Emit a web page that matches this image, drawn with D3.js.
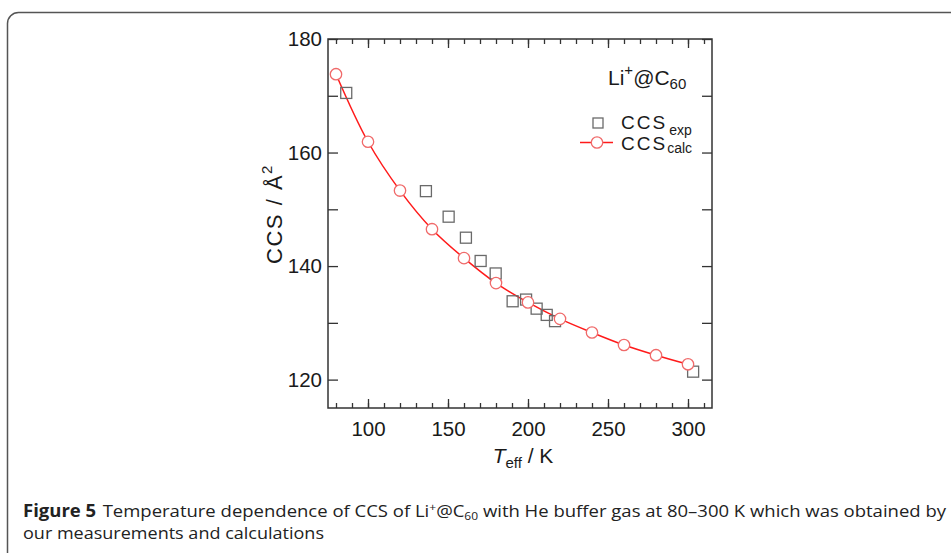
<!DOCTYPE html>
<html>
<head>
<meta charset="utf-8">
<script src="https://cdn.jsdelivr.net/npm/d3@7"></script>
<style>
  body { margin: 0; background: #fff; }
  svg { display: block; }
</style>
</head>
<body>
<div id="chart"></div>
<script>
// CCS of Li+@C60 vs effective temperature

// Data
let calcT = [80, 100, 120, 140, 160, 180, 200, 220, 240, 260, 280, 300];
let calcCCS = [173.8, 161.9, 153.3, 146.5, 141.4, 137.0, 133.6, 130.7, 128.3, 126.1, 124.3, 122.7];
let expT = [86.4, 136.2, 150.4, 161.2, 170.4, 179.8, 190.4, 198.8, 205.4, 211.7, 216.9, 303.2];
let expCCS = [170.5, 153.2, 148.7, 145.0, 140.9, 138.7, 133.8, 134.1, 132.5, 131.4, 130.3, 121.4];
let xMajorTicks = [100, 150, 200, 250, 300];
let xMinorTicks = d3.range(80, 320, 10);
let yTicks = [120, 130, 140, 150, 160, 170, 180];
let yLabelTicks = [120, 140, 160, 180];

let W = 951, H = 553;
let plot = {left: 328, top: 39, right: 712, bottom: 408};
let axisFont = '"Liberation Sans", Arial, sans-serif';

let svg = d3.select('#chart').append('svg')
  .attr('width', W)
  .attr('height', H)
  .style('background', '#fff');

// rounded frame around figure
svg.append('rect')
  .attr('x', 7.5).attr('y', 12.5)
  .attr('width', 980).attr('height', 600)
  .attr('rx', 11).attr('ry', 11)
  .attr('fill', 'none')
  .attr('stroke', '#555')
  .attr('stroke-width', 1.5);

// scales
let xScale = d3.scaleLinear().domain([75, 315]).range([plot.left, plot.right]);
let yScale = d3.scaleLinear().domain([115, 180]).range([plot.bottom, plot.top]);

function styleAxis(g) {
  g.select('.domain').remove();
  g.selectAll('line').attr('stroke', '#333').attr('stroke-width', 1.3);
  g.selectAll('text')
    .attr('fill', '#1a1a1a')
    .style('font-family', axisFont)
    .style('font-size', '20.5px');
}

// bottom axis: minor then major
svg.append('g')
  .attr('transform', 'translate(0,' + plot.bottom + ')')
  .call(d3.axisBottom(xScale).tickValues(xMinorTicks).tickSize(-5).tickFormat(''))
  .call(styleAxis);
svg.append('g')
  .attr('transform', 'translate(0,' + plot.bottom + ')')
  .call(d3.axisBottom(xScale).tickValues(xMajorTicks).tickSize(-9).tickPadding(13).tickFormat(d3.format('d')))
  .call(styleAxis);

// top axis (mirror)
svg.append('g')
  .attr('transform', 'translate(0,' + plot.top + ')')
  .call(d3.axisTop(xScale).tickValues(xMinorTicks).tickSize(-5).tickFormat(''))
  .call(styleAxis);
svg.append('g')
  .attr('transform', 'translate(0,' + plot.top + ')')
  .call(d3.axisTop(xScale).tickValues(xMajorTicks).tickSize(-9).tickFormat(''))
  .call(styleAxis);

// left axis
svg.append('g')
  .attr('transform', 'translate(' + plot.left + ',0)')
  .call(d3.axisLeft(yScale).tickValues(yTicks).tickSize(-10).tickPadding(6)
    .tickFormat(d => yLabelTicks.includes(d) ? d : ''))
  .call(styleAxis);

// right axis (mirror)
svg.append('g')
  .attr('transform', 'translate(' + plot.right + ',0)')
  .call(d3.axisRight(yScale).tickValues(yTicks).tickSize(-10).tickFormat(''))
  .call(styleAxis);

// plot frame
svg.append('rect')
  .attr('x', plot.left).attr('y', plot.top)
  .attr('width', plot.right - plot.left)
  .attr('height', plot.bottom - plot.top)
  .attr('fill', 'none')
  .attr('stroke', '#333')
  .attr('stroke-width', 1.5);

// calc curve
let calcData = calcT.map((t, i) => ({t: t, v: calcCCS[i]}));
let expData = expT.map((t, i) => ({t: t, v: expCCS[i]}));

let line = d3.line()
  .x(d => xScale(d.t))
  .y(d => yScale(d.v))
  .curve(d3.curveCatmullRom);

svg.append('path')
  .datum(calcData)
  .attr('d', line)
  .attr('fill', 'none')
  .attr('stroke', '#ff1a1a')
  .attr('stroke-width', 1.5);

// exp squares
let sq = 11;
svg.selectAll('.exp')
  .data(expData)
  .enter().append('rect')
  .attr('class', 'exp')
  .attr('x', d => xScale(d.t) - sq / 2)
  .attr('y', d => yScale(d.v) - sq / 2)
  .attr('width', sq).attr('height', sq)
  .attr('fill', 'none')
  .attr('stroke', '#6a6a6a')
  .attr('stroke-width', 1.3);

// calc circles
svg.selectAll('.calc')
  .data(calcData)
  .enter().append('circle')
  .attr('class', 'calc')
  .attr('cx', d => xScale(d.t))
  .attr('cy', d => yScale(d.v))
  .attr('r', 5.7)
  .attr('fill', '#fff')
  .attr('stroke', '#f06a6a')
  .attr('stroke-width', 1.3);

// legend
let legFont = axisFont;
let title = svg.append('text')
  .attr('x', 608).attr('y', 85)
  .attr('fill', '#1a1a1a')
  .style('font-family', legFont)
  .style('font-size', '21px');
title.append('tspan').text('Li');
title.append('tspan').attr('dy', -10).style('font-size', '15px').text('+');
title.append('tspan').attr('dy', 10).text('@C');
title.append('tspan').attr('dy', 4).style('font-size', '15px').text('60');

svg.append('rect')
  .attr('x', 598 - 5).attr('y', 123 - 5)
  .attr('width', 10).attr('height', 10)
  .attr('fill', 'none')
  .attr('stroke', '#6a6a6a')
  .attr('stroke-width', 1.3);
let l1 = svg.append('text')
  .attr('x', 621).attr('y', 129)
  .attr('fill', '#1a1a1a')
  .style('font-family', legFont)
  .style('font-size', '19px')
  .style('letter-spacing', '2px');
l1.append('tspan').text('CCS');
l1.append('tspan').attr('dy', 6).attr('dx', 2).style('font-size', '14px').style('letter-spacing', '0px').text('exp');

svg.append('line')
  .attr('x1', 580).attr('x2', 613)
  .attr('y1', 142.5).attr('y2', 142.5)
  .attr('stroke', '#ff1a1a')
  .attr('stroke-width', 1.5);
svg.append('circle')
  .attr('cx', 597).attr('cy', 142.5).attr('r', 5.7)
  .attr('fill', '#fff')
  .attr('stroke', '#f06a6a')
  .attr('stroke-width', 1.3);
let l2 = svg.append('text')
  .attr('x', 621).attr('y', 150)
  .attr('fill', '#1a1a1a')
  .style('font-family', legFont)
  .style('font-size', '19px')
  .style('letter-spacing', '2px');
l2.append('tspan').text('CCS');
l2.append('tspan').attr('dy', 3).style('font-size', '14px').style('letter-spacing', '0px').text('calc');

// y axis title
let yTitle = svg.append('text')
  .attr('transform', 'translate(282,214) rotate(-90)')
  .attr('text-anchor', 'middle')
  .attr('fill', '#1a1a1a')
  .style('font-family', axisFont)
  .style('font-size', '22px')
  .style('letter-spacing', '1.5px');
yTitle.append('tspan').text('CCS / Å');
yTitle.append('tspan').attr('dy', -10).style('font-size', '15px').text('2');

// x axis title
let xTitle = svg.append('text')
  .attr('x', 523).attr('y', 463)
  .attr('text-anchor', 'middle')
  .attr('fill', '#1a1a1a')
  .style('font-family', axisFont)
  .style('font-size', '21px');
xTitle.append('tspan').style('font-style', 'italic').text('T');
xTitle.append('tspan').attr('dy', 5).style('font-size', '15px').text('eff');
xTitle.append('tspan').attr('dy', -5).text(' / K');

// caption
let capFont = '"Open Sans", "Noto Sans", sans-serif';
let cap1 = svg.append('text')
  .attr('x', 23).attr('y', 517)
  .attr('fill', '#222')
  .attr('textLength', 923)
  .attr('lengthAdjust', 'spacingAndGlyphs')
  .style('font-family', capFont)
  .style('font-size', '17px');
cap1.append('tspan').style('font-weight', 'bold').text('Figure 5');
cap1.append('tspan').attr('dx', 6).text('Temperature dependence of CCS of Li');
cap1.append('tspan').attr('dy', -6).style('font-size', '11px').text('+');
cap1.append('tspan').attr('dy', 6).text('@C');
cap1.append('tspan').attr('dy', 3).style('font-size', '11px').text('60');
cap1.append('tspan').attr('dy', -3).text(' with He buffer gas at 80–300 K which was obtained by');

svg.append('text')
  .attr('x', 23).attr('y', 539)
  .attr('fill', '#222')
  .attr('textLength', 301)
  .attr('lengthAdjust', 'spacingAndGlyphs')
  .style('font-family', capFont)
  .style('font-size', '17px')
  .text('our measurements and calculations');
</script>
</body>
</html>
